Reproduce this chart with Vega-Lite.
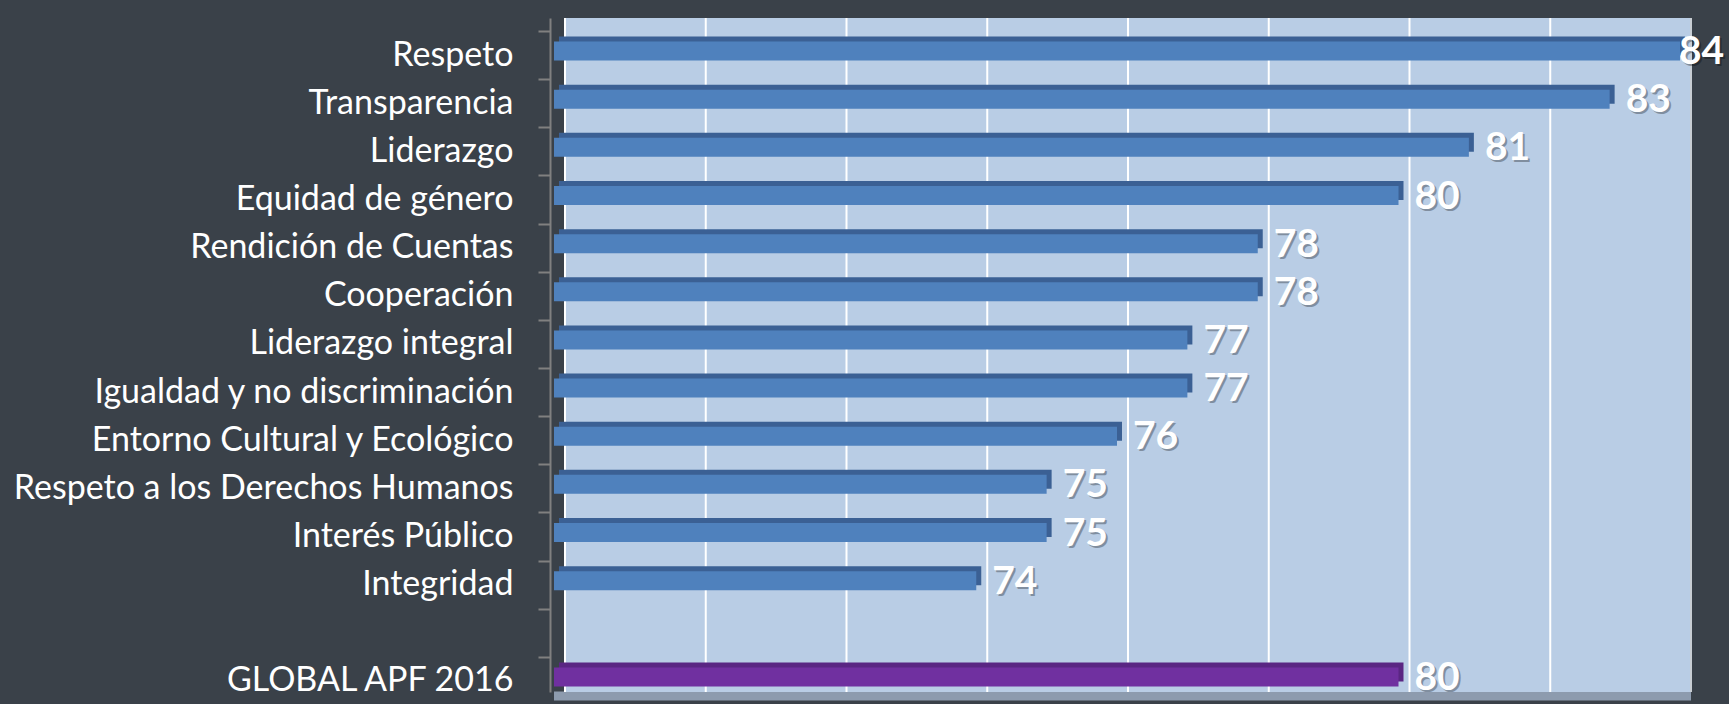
{
  "$schema": "https://vega.github.io/schema/vega-lite/v6.json",
  "autosize": {"type": "none"},
  "width": 1126,
  "height": 674,
  "padding": {"left": 565, "top": 18, "right": 38, "bottom": 12},
  "background": "#3a4149",
  "config": {"view": {"stroke": null}},
  "datasets": {
    "valores": [
      {"cat": "Respeto", "valor": 84},
      {"cat": "Transparencia", "valor": 83},
      {"cat": "Liderazgo", "valor": 81},
      {"cat": "Equidad de género", "valor": 80},
      {"cat": "Rendición de Cuentas", "valor": 78},
      {"cat": "Cooperación", "valor": 78},
      {"cat": "Liderazgo integral", "valor": 77},
      {"cat": "Igualdad y no discriminación", "valor": 77},
      {"cat": "Entorno Cultural y Ecológico", "valor": 76},
      {"cat": "Respeto a los Derechos Humanos", "valor": 75},
      {"cat": "Interés Público", "valor": 75},
      {"cat": "Integridad", "valor": 74},
      {"cat": "GLOBAL APF 2016", "valor": 80}
    ],
    "pared": [{"desde": 68, "hasta": 84, "cat": "GLOBAL APF 2016"}],
    "grid": [{"g": 68}, {"g": 70}, {"g": 72}, {"g": 74}, {"g": 76}, {"g": 78}, {"g": 80}, {"g": 82}]
  },
  "layer": [
    {
      "data": {"name": "pared"},
      "mark": {"type": "bar", "size": 9, "fill": "#8d9bae", "xOffset": -11, "yOffset": 28},
      "encoding": {
        "x": {"field": "desde", "type": "quantitative", "scale": {"domain": [68, 84]}, "axis": null},
        "x2": {"field": "hasta"},
        "y": {
          "field": "cat",
          "type": "nominal",
          "scale": {
            "domain": ["Respeto", "Transparencia", "Liderazgo", "Equidad de género", "Rendición de Cuentas", "Cooperación", "Liderazgo integral", "Igualdad y no discriminación", "Entorno Cultural y Ecológico", "Respeto a los Derechos Humanos", "Interés Público", "Integridad", "", "GLOBAL APF 2016"],
            "paddingInner": 0,
            "paddingOuter": 0
          },
          "axis": {
            "title": null,
            "offset": 15,
            "domainColor": "#808080",
            "domainWidth": 2,
            "tickColor": "#808080",
            "tickWidth": 2,
            "tickSize": 12,
            "bandPosition": 0,
            "tickOffset": 13,
            "labelColor": "#ffffff",
            "labelFont": "Lato",
            "labelFontSize": 34,
            "labelPadding": 25,
            "labelLimit": 0
          }
        }
      }
    },
    {
      "data": {"name": "pared"},
      "mark": {"type": "rect", "fill": "#b9cde5"},
      "encoding": {
        "x": {"field": "desde", "type": "quantitative"},
        "x2": {"field": "hasta"}
      }
    },
    {
      "data": {"name": "grid"},
      "mark": {"type": "rule", "color": "#ffffff", "strokeWidth": 2},
      "encoding": {
        "x": {"field": "g", "type": "quantitative"}
      }
    },
    {
      "data": {"name": "pared"},
      "mark": {"type": "rule", "color": "#c8cdd3", "strokeWidth": 2},
      "encoding": {
        "x": {"field": "hasta", "type": "quantitative"}
      }
    },
    {
      "data": {"name": "valores"},
      "mark": {"type": "bar", "size": 19, "xOffset": -6, "x2Offset": -6, "yOffset": 4},
      "encoding": {
        "y": {"field": "cat", "type": "nominal"},
        "x": {"field": "valor", "type": "quantitative"},
        "x2": {"datum": 68},
        "fill": {"condition": {"test": "datum.cat === 'GLOBAL APF 2016'", "value": "#5a2683"}, "value": "#3b6094"}
      }
    },
    {
      "data": {"name": "valores"},
      "mark": {"type": "bar", "size": 19, "xOffset": -11, "x2Offset": -11, "yOffset": 9},
      "encoding": {
        "y": {"field": "cat", "type": "nominal"},
        "x": {"field": "valor", "type": "quantitative"},
        "x2": {"datum": 68},
        "fill": {"condition": {"test": "datum.cat === 'GLOBAL APF 2016'", "value": "#7030a0"}, "value": "#4f81bd"}
      }
    },
    {
      "data": {"name": "valores"},
      "transform": [{"filter": "datum.valor < 84"}],
      "mark": {"type": "text", "align": "left", "baseline": "middle", "dx": 7, "dy": 12, "font": "Lato", "fontWeight": "bold", "fontSize": 39, "fill": "#000000", "opacity": 0.3},
      "encoding": {
        "y": {"field": "cat", "type": "nominal"},
        "x": {"field": "valor", "type": "quantitative"},
        "text": {"field": "valor", "type": "quantitative"}
      }
    },
    {
      "data": {"name": "valores"},
      "transform": [{"filter": "datum.valor < 84"}],
      "mark": {"type": "text", "align": "left", "baseline": "middle", "dx": 5, "dy": 10, "font": "Lato", "fontWeight": "bold", "fontSize": 39, "fill": "#ffffff"},
      "encoding": {
        "y": {"field": "cat", "type": "nominal"},
        "x": {"field": "valor", "type": "quantitative"},
        "text": {"field": "valor", "type": "quantitative"}
      }
    },
    {
      "data": {"name": "valores"},
      "transform": [{"filter": "datum.valor >= 84"}],
      "mark": {"type": "text", "align": "left", "baseline": "middle", "dx": -10, "dy": 12, "font": "Lato", "fontWeight": "bold", "fontSize": 39, "fill": "#000000", "opacity": 0.3},
      "encoding": {
        "y": {"field": "cat", "type": "nominal"},
        "x": {"field": "valor", "type": "quantitative"},
        "text": {"field": "valor", "type": "quantitative"}
      }
    },
    {
      "data": {"name": "valores"},
      "transform": [{"filter": "datum.valor >= 84"}],
      "mark": {"type": "text", "align": "left", "baseline": "middle", "dx": -12, "dy": 10, "font": "Lato", "fontWeight": "bold", "fontSize": 39, "fill": "#ffffff"},
      "encoding": {
        "y": {"field": "cat", "type": "nominal"},
        "x": {"field": "valor", "type": "quantitative"},
        "text": {"field": "valor", "type": "quantitative"}
      }
    }
  ]
}
